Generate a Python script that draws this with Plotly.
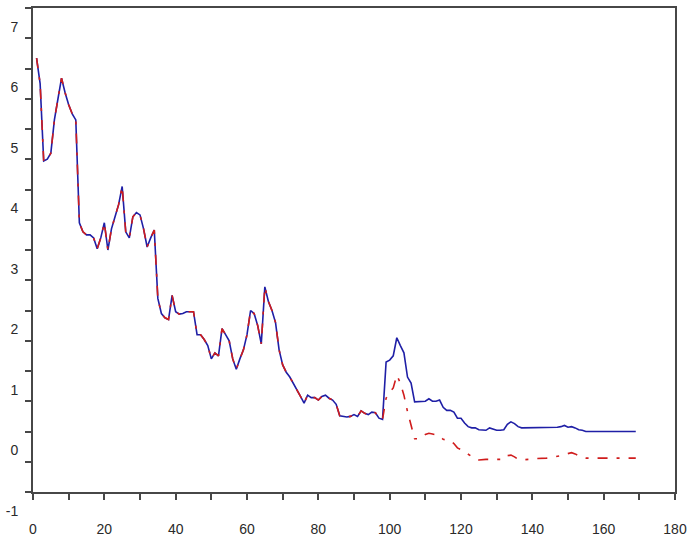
import plotly.graph_objects as go

# Sample index (1 .. 169)
steps = list(range(1, 170))

# Both series coincide over the first 98 samples
common_head = [
    6.17, 5.75, 4.47, 4.50, 4.60, 5.15, 5.50, 5.84, 5.60, 5.40,
    5.25, 5.15, 3.45, 3.30, 3.25, 3.25, 3.20, 3.02, 3.20, 3.45,
    3.00, 3.35, 3.55, 3.75, 4.05, 3.30, 3.20, 3.55, 3.62, 3.58,
    3.35, 3.05, 3.20, 3.33, 2.20, 1.95, 1.88, 1.85, 2.25, 1.98,
    1.94, 1.95, 1.98, 1.98, 1.98, 1.60, 1.60, 1.52, 1.42, 1.20,
    1.30, 1.25, 1.70, 1.60, 1.50, 1.20, 1.03, 1.20, 1.35, 1.60,
    2.00, 1.95, 1.75, 1.45, 2.39, 2.15, 2.00, 1.80, 1.35, 1.10,
    0.98, 0.90, 0.80, 0.70, 0.58, 0.47, 0.60, 0.56, 0.56, 0.52,
    0.58, 0.60, 0.55, 0.52, 0.45, 0.26, 0.25, 0.24, 0.25, 0.28,
    0.25, 0.34, 0.30, 0.28, 0.32, 0.31, 0.22, 0.20,
]

# Samples 99 .. 169, solid series
solid_tail = [
    1.15, 1.18, 1.25, 1.55, 1.42, 1.30, 0.90, 0.80, 0.49, 0.49,
    0.49, 0.50, 0.54, 0.50, 0.50, 0.52, 0.40, 0.35, 0.35, 0.32,
    0.22, 0.22, 0.14, 0.08, 0.06, 0.06, 0.03, 0.02, 0.02, 0.06,
    0.04, 0.02, 0.02, 0.03, 0.12, 0.16, 0.13, 0.08, 0.06, 0.06,
    0.06, 0.06, 0.06, 0.06, 0.07, 0.07, 0.07, 0.07, 0.07, 0.08,
    0.10, 0.07, 0.08, 0.06, 0.03, 0.02, 0.00, 0.00, 0.00, 0.00,
    0.00, 0.00, 0.00, 0.00, 0.00, 0.00, 0.00, 0.00, 0.00, 0.00,
    0.00,
]

# Samples 99 .. 169, dash-dot series
dashed_tail = [
    0.55, 0.65, 0.72, 0.93, 0.80, 0.60, 0.33, 0.10, -0.12, -0.12,
    -0.10, -0.05, -0.03, -0.04, -0.05, -0.07, -0.13, -0.14, -0.15, -0.20,
    -0.27, -0.30, -0.34, -0.38, -0.42, -0.45, -0.47, -0.46, -0.46, -0.46,
    -0.46, -0.47, -0.47, -0.46, -0.40, -0.39, -0.42, -0.46, -0.47, -0.47,
    -0.46, -0.45, -0.45, -0.45, -0.45, -0.44, -0.43, -0.42, -0.42, -0.40,
    -0.38, -0.36, -0.35, -0.37, -0.40, -0.43, -0.44, -0.44, -0.44, -0.44,
    -0.44, -0.44, -0.44, -0.44, -0.44, -0.44, -0.44, -0.44, -0.44, -0.44,
    -0.44,
]

solid_values = common_head + solid_tail
dashed_values = common_head + dashed_tail

x_labels = [0, 20, 40, 60, 80, 100, 120, 140, 160, 180]
y_labels = [-1, 0, 1, 2, 3, 4, 5, 6, 7]

AXIS_COLOR = "#474747"
TEXT_COLOR = "#2a2a2a"

fig = go.Figure()
fig.add_trace(go.Scatter(
    x=steps, y=solid_values, mode="lines",
    line=dict(color="#1f1fa6", width=1.6),
))
fig.add_trace(go.Scatter(
    x=steps, y=dashed_values, mode="lines",
    line=dict(color="#d01c1c", width=1.6, dash="10px,9px,3px,9px"),
))

# half-unit tick marks on the vertical axis, labels only on whole numbers
y_tickvals = [v / 2 for v in range(-2, 15)]
y_ticktext = [str(int(v)) if float(v).is_integer() else "" for v in y_tickvals]

fig.update_layout(
    width=689, height=537,
    margin=dict(l=33, r=14, t=8, b=45, autoexpand=False),
    paper_bgcolor="white", plot_bgcolor="white",
    showlegend=False,
    font=dict(family="Liberation Sans, Arial, sans-serif", size=14, color=TEXT_COLOR),
)
fig.update_xaxes(
    range=[0, 180], tickmode="array", tickvals=x_labels,
    ticktext=[str(v) for v in x_labels],
    ticks="outside", ticklen=6, tickwidth=1.5, tickcolor=AXIS_COLOR,
    minor=dict(dtick=10, tick0=0, ticks="outside", ticklen=6, tickwidth=1.5,
               tickcolor=AXIS_COLOR),
    showline=True, linecolor=AXIS_COLOR, linewidth=2, mirror=True,
    showgrid=False, zeroline=False, ticklabelstandoff=17, automargin=False,
)
fig.update_yaxes(
    range=[-1, 7], tickmode="array", tickvals=y_tickvals, ticktext=y_ticktext,
    ticks="outside", ticklen=6, tickwidth=1.5, tickcolor=AXIS_COLOR,
    showline=True, linecolor=AXIS_COLOR, linewidth=2, mirror=True,
    showgrid=False, zeroline=False, ticklabelshift=19, ticklabelstandoff=4,
    automargin=False,
)

fig.write_html("out.html")
